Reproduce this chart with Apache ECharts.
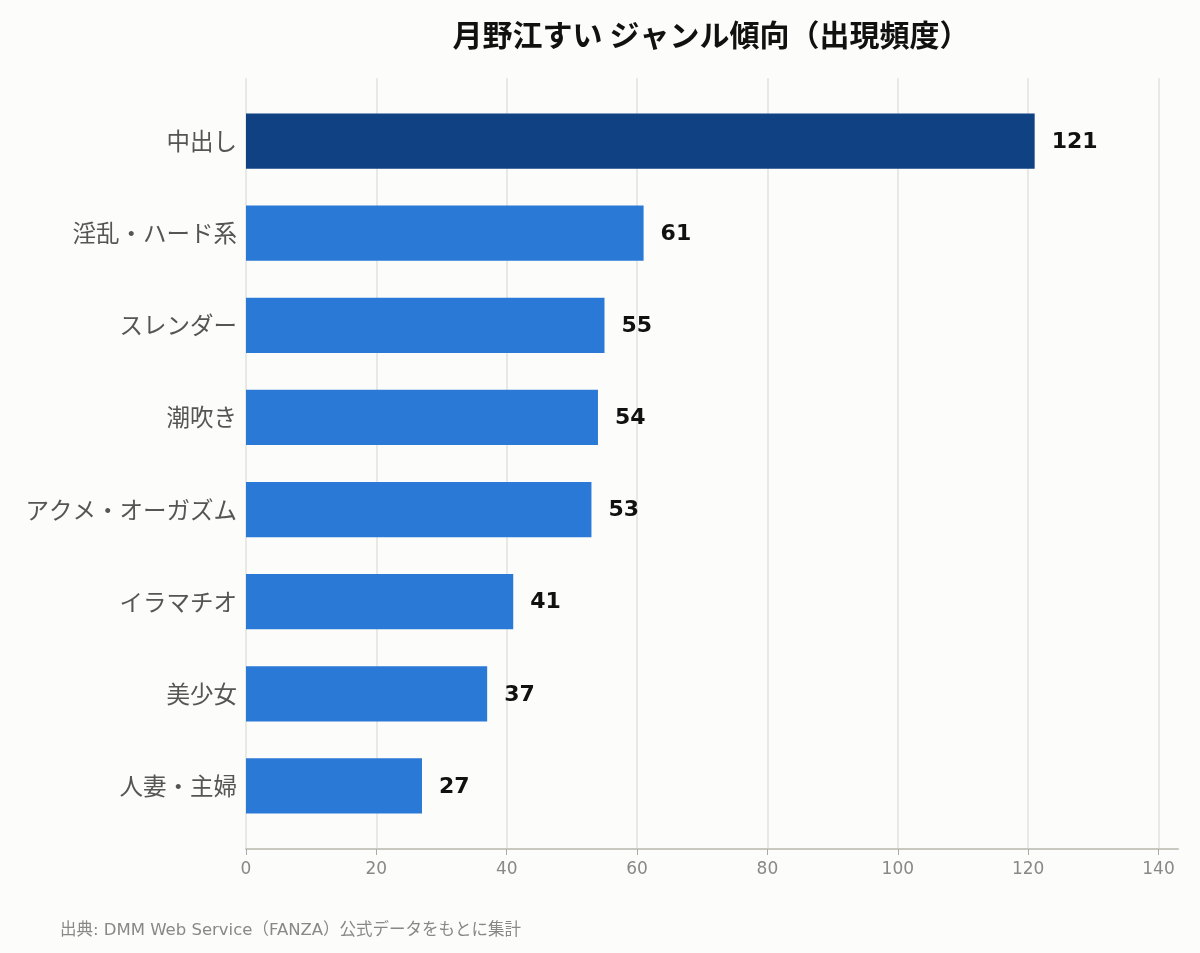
<!DOCTYPE html>
<html>
<head>
<meta charset="utf-8">
<script src="https://cdn.jsdelivr.net/npm/echarts@6/dist/echarts.min.js"></script>
<style>
html,body{margin:0;padding:0;background:#fcfcfa;}
#main{width:1200px;height:953px;}
</style>
</head>
<body>
<div id="main"></div>
<script>
const categories = ['中出し','淫乱・ハード系','スレンダー','潮吹き','アクメ・オーガズム','イラマチオ','美少女','人妻・主婦'];
const values = [121, 61, 55, 54, 53, 41, 37, 27];
const xTicks = [0, 20, 40, 60, 80, 100, 120, 140];
const titleText = '月野江すい ジャンル傾向（出現頻度）';
const sourceText = '出典: DMM Web Service（FANZA）公式データをもとに集計';

const FONT = '"DejaVu Sans", "Noto Sans CJK JP", sans-serif';
const CJK = '"Noto Sans CJK JP", "DejaVu Sans", sans-serif';
const xMin = xTicks[0], xMax = xTicks[xTicks.length - 1];
const xInterval = xTicks[1] - xTicks[0];

const chart = echarts.init(document.getElementById('main'), null, {renderer: 'canvas'});
const cats = categories.slice().reverse();
const vals = values.slice().reverse();
const topVal = Math.max(...values);

chart.setOption({
  backgroundColor: '#fcfcfa',
  animation: false,
  textStyle: {fontFamily: FONT},
  title: [{
    text: titleText,
    left: 706, top: 15, textAlign: 'center',
    textStyle: {fontSize: 30, fontWeight: 'bold', color: '#111', fontFamily: CJK}
  }, {
    text: sourceText,
    left: 55, top: 917,
    textStyle: {fontSize: 16.5, fontWeight: 'normal', color: '#888', fontFamily: FONT}
  }],
  grid: [
    {left: 246, right: 41.5, top: 95, bottom: 121},
    {left: 246, right: 41.5, top: 78, bottom: 104},
    {left: 246, right: 22, top: 78, bottom: 104}
  ],
  xAxis: [
    {gridIndex: 0, type: 'value', min: xMin, max: xMax, interval: xInterval, show: false},
    {gridIndex: 1, type: 'value', min: xMin, max: xMax, interval: xInterval,
     axisLine: {show: false},
     axisTick: {show: true, length: 6, lineStyle: {color: '#aaa'}},
     axisLabel: {fontSize: 17, color: '#888', margin: 12, fontFamily: FONT},
     splitLine: {show: true, lineStyle: {color: '#e2e2de', width: 1.5}}},
    {gridIndex: 2, type: 'value', min: 0, max: 1,
     axisLine: {show: true, lineStyle: {color: '#c8c8c0', width: 2}},
     axisTick: {show: false}, axisLabel: {show: false}, splitLine: {show: false}}
  ],
  yAxis: [
    {gridIndex: 0, type: 'category', data: cats,
     axisLine: {show: false}, axisTick: {show: false},
     axisLabel: {fontSize: 23.5, color: '#555', margin: 9, fontFamily: CJK}},
    {gridIndex: 1, type: 'category', data: cats, show: false},
    {gridIndex: 2, type: 'value', show: false}
  ],
  series: [{
    type: 'bar',
    xAxisIndex: 0, yAxisIndex: 0,
    data: vals.map(v => ({value: v, itemStyle: {color: v === topVal ? '#0f4183' : '#2a79d6'}})),
    barCategoryGap: '40%',
    label: {
      show: true, position: 'right', distance: 17, offset: [0, 1],
      fontSize: 22, fontWeight: 'bold', color: '#111', fontFamily: FONT
    }
  }]
});
</script>
</body>
</html>
